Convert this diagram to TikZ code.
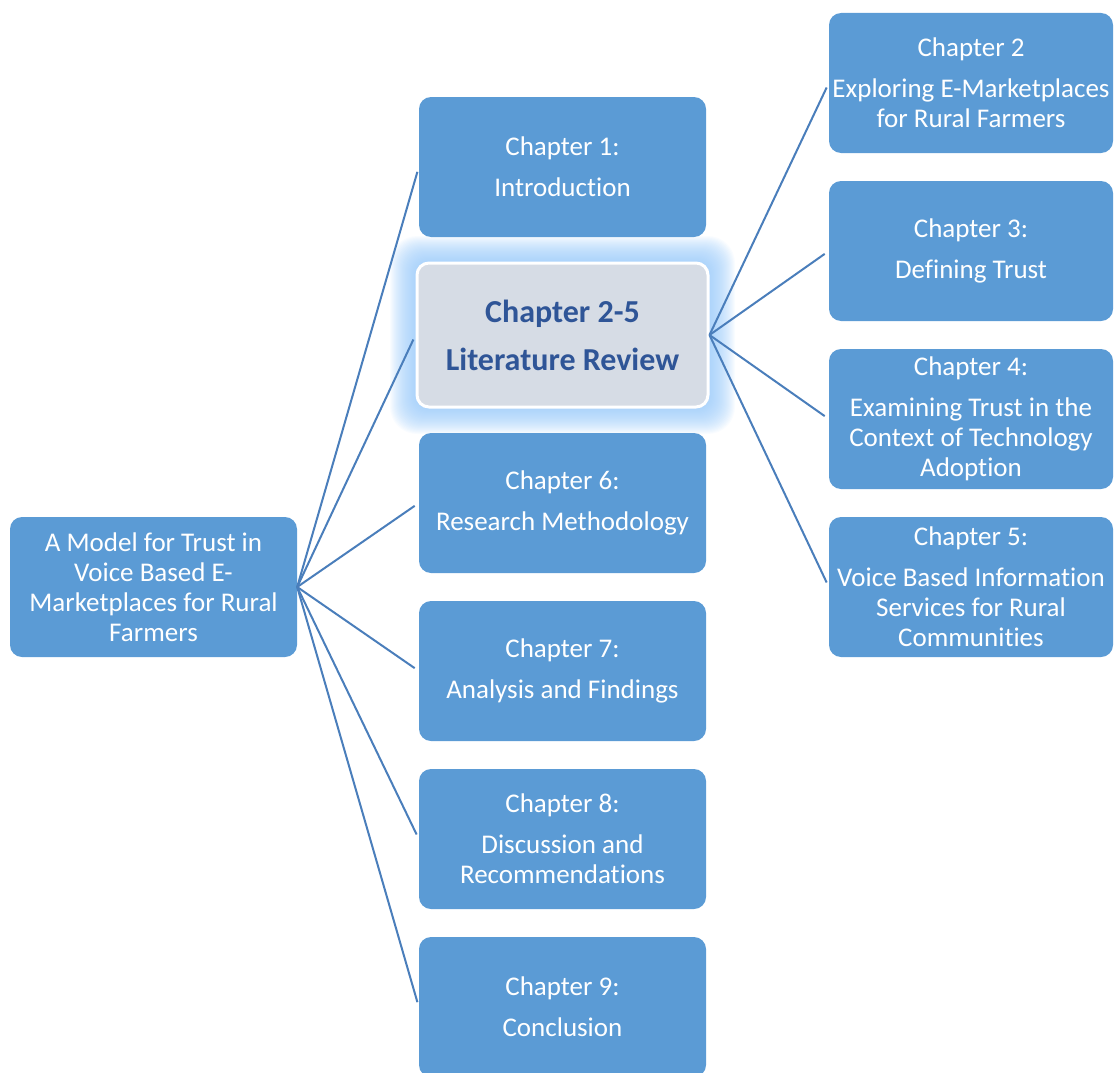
\documentclass[tikz,border=0pt]{standalone}
\usepackage{fontspec}
\setmainfont{Carlito}[Ligatures={NoCommon},RawFeature={-liga;-clig;-dlig}]
\begin{document}
\definecolor{boxblue}{RGB}{91,155,213}
\definecolor{linkblue}{RGB}{74,126,187}
\definecolor{hlfill}{RGB}{214,220,229}
\definecolor{hltext}{RGB}{47,85,151}
\definecolor{glowblue}{RGB}{150,200,250}
\begin{tikzpicture}[x=1pt,y=-1pt,
  chapbox/.style={draw=none,fill=boxblue,rounded corners=12pt,text=white,
    align=center,inner sep=0pt,minimum height=140pt,
    font=\fontsize{27}{30}\selectfont},
  midbox/.style={chapbox,minimum width=287pt},
  rightbox/.style={chapbox,minimum width=284pt},
  link/.style={draw=linkblue,line width=2pt,shorten >=5pt}]
\useasboundingbox (0,0) rectangle (1114,1073);

% soft glow behind the literature review box
\foreach \g in {1,...,26}{
  \fill[glowblue,opacity=0.055,rounded corners=14pt+0.5*\g]
    (416-\g,262-\g) rectangle (709+\g,408+\g);
}

% root
\node[chapbox,minimum width=287pt] (root) at (153.5,587)
  {A Model for Trust in\\Voice Based E-\\Marketplaces for Rural\\Farmers};

% middle column
\node[midbox] (m1) at (562.5,167) {Chapter 1:\\[11pt]Introduction};
\node[draw=white,line width=3pt,fill=hlfill,rounded corners=12pt,
  minimum width=291pt,minimum height=144pt,inner sep=0pt,align=center,
  text=hltext,font=\fontsize{32}{37}\bfseries\selectfont]
  (m25) at (562.5,335) {Chapter 2-5\\[11pt]Literature Review};
\node[midbox] (m6) at (562.5,503) {Chapter 6:\\[11pt]Research Methodology};
\node[midbox] (m7) at (562.5,671) {Chapter 7:\\[11pt]Analysis and Findings};
\node[midbox] (m8) at (562.5,839) {Chapter 8:\\[11pt]Discussion and\\Recommendations};
\node[midbox] (m9) at (562.5,1007) {Chapter 9:\\[11pt]Conclusion};

% right column
\node[rightbox] (r2) at (971,83) {Chapter 2\\[11pt]Exploring E-Marketplaces\\for Rural Farmers};
\node[rightbox] (r3) at (971,251) {Chapter 3:\\[11pt]Defining Trust};
\node[rightbox] (r4) at (971,419) {Chapter 4:\\[11pt]Examining Trust in the\\Context of Technology\\Adoption};
\node[rightbox] (r5) at (971,587) {Chapter 5:\\[11pt]Voice Based Information\\Services for Rural\\Communities};

% connectors
\foreach \n in {m1,m25,m6,m7,m8,m9}{
  \draw[link] (root.east) -- (\n.west);
}
\foreach \n in {r2,r3,r4,r5}{
  \draw[link] (m25.east) -- (\n.west);
}
\end{tikzpicture}
\end{document}
